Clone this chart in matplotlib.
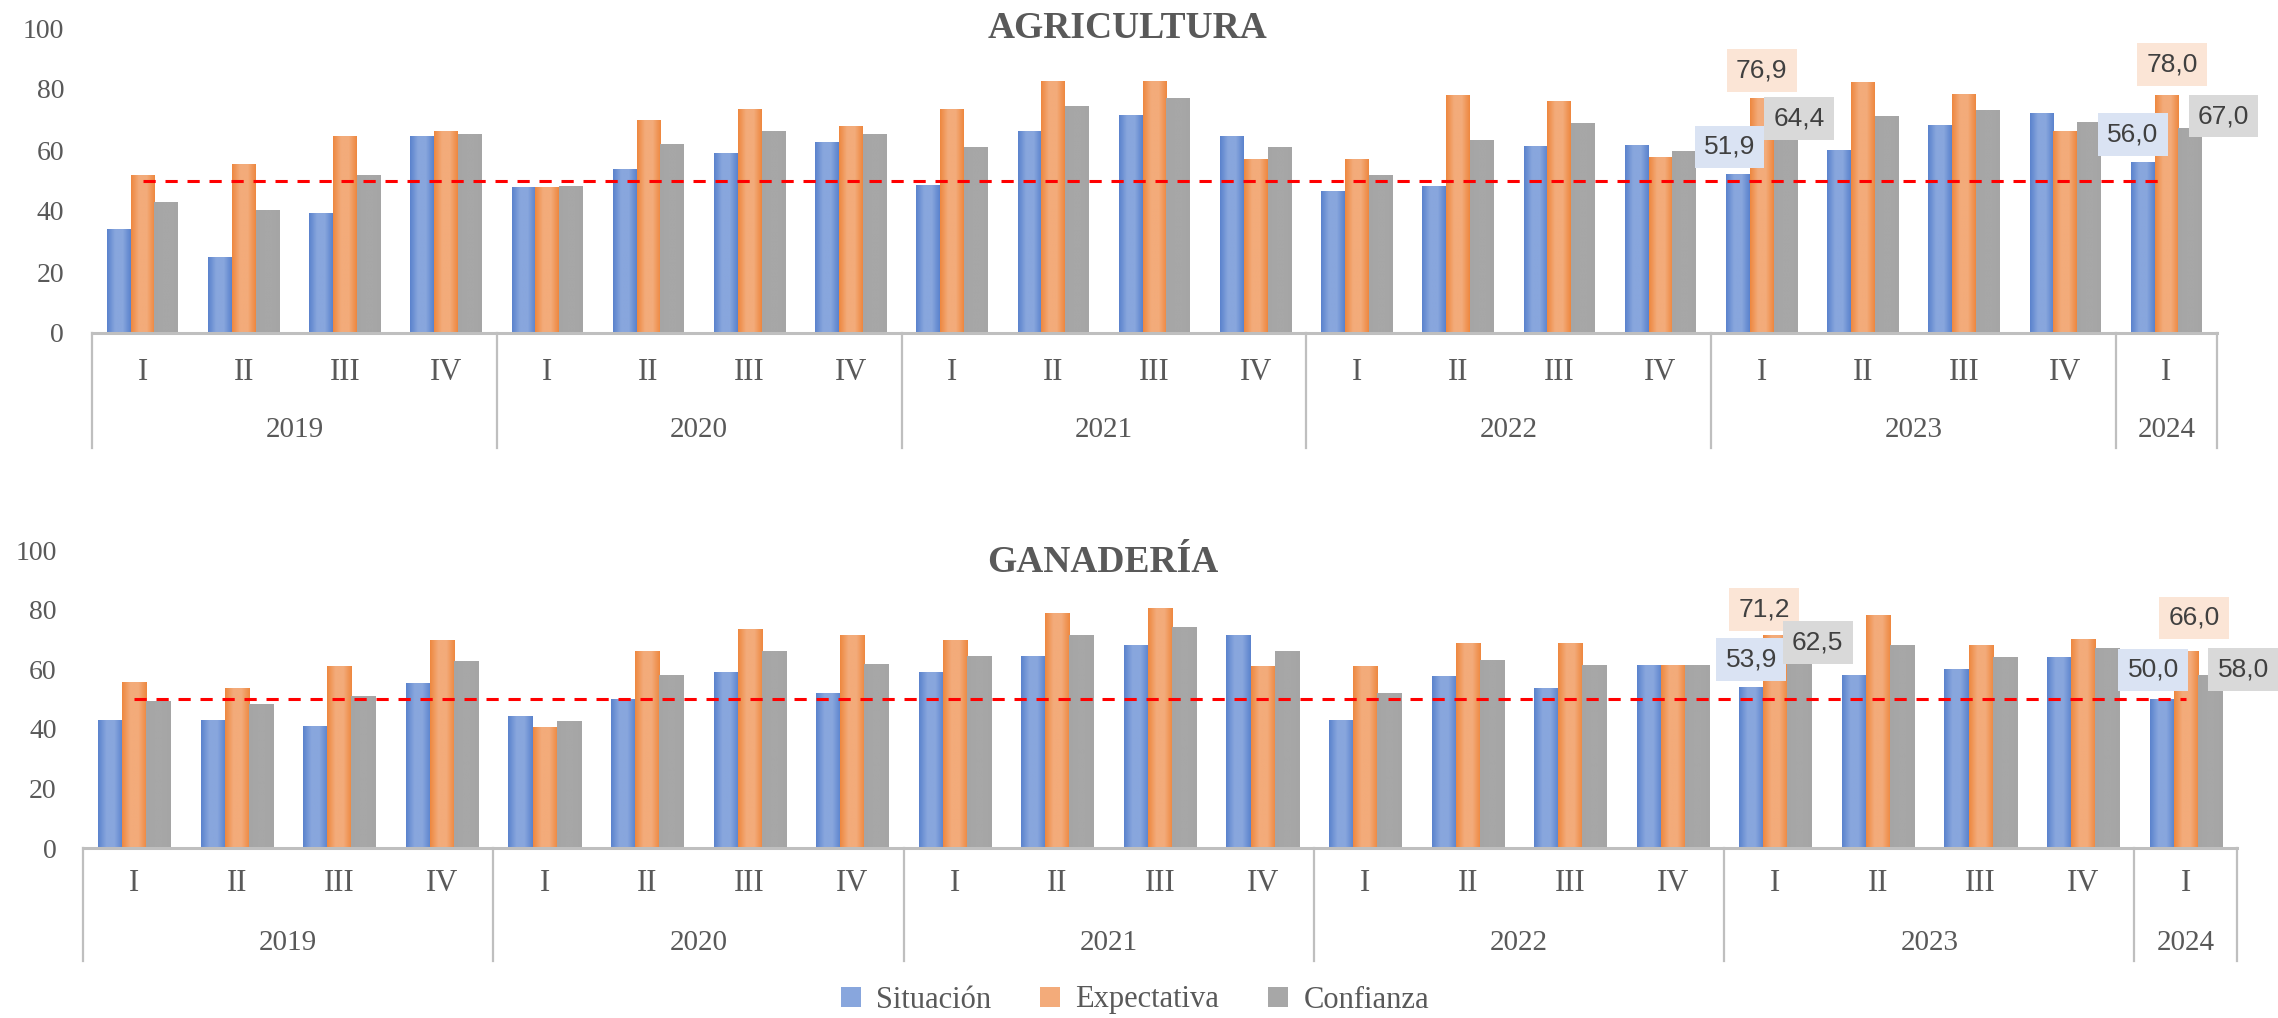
import numpy as np
import matplotlib.pyplot as plt
from matplotlib.colors import LinearSegmentedColormap
from matplotlib.patches import Patch

quarters = ['I', 'II', 'III', 'IV'] * 5 + ['I']
years = ['2019', '2020', '2021', '2022', '2023', '2024']
year_counts = [4, 4, 4, 4, 4, 1]
series = ['Situación', 'Expectativa', 'Confianza']

agri_sit = [33.8, 24.6, 39.1, 64.3, 47.8, 53.5, 59.0, 62.6, 48.2, 66.1, 71.4, 64.3,
            46.3, 48.0, 61.1, 61.6, 51.9, 60.0, 68.0, 72.1, 56.0]
agri_exp = [51.7, 55.3, 64.3, 66.1, 47.8, 69.6, 73.2, 67.8, 73.2, 82.3, 82.3, 57.0,
            57.0, 77.9, 75.9, 57.7, 76.9, 82.0, 78.1, 66.0, 78.0]
agri_conf = [42.7, 40.1, 51.8, 65.2, 48.1, 61.7, 66.2, 65.2, 60.7, 74.3, 77.0, 60.7,
             51.8, 63.0, 68.6, 59.6, 64.4, 71.1, 73.1, 69.0, 67.0]

gan_sit = [42.8, 42.7, 40.9, 55.3, 44.2, 50.0, 59.0, 51.7, 59.0, 64.3, 67.8, 71.4,
           42.7, 57.4, 53.6, 61.4, 53.9, 58.0, 59.9, 63.9, 50.0]
gan_exp = [55.4, 53.6, 60.8, 69.7, 40.3, 66.1, 73.3, 71.4, 69.7, 78.7, 80.5, 60.8,
           60.8, 68.5, 68.5, 61.4, 71.2, 78.0, 67.9, 70.1, 66.0]
gan_conf = [49.1, 48.1, 50.9, 62.5, 42.3, 58.0, 66.0, 61.7, 64.3, 71.4, 74.1, 66.0,
            51.7, 62.9, 61.1, 61.4, 62.5, 67.9, 64.0, 66.9, 58.0]

threshold = 50
labeled = [16, 20]

edge_cols = ['#5B83CD', '#EE8840', '#A5A5A5']
mid_cols = ['#88A6DD', '#F3AB7A', '#A7A7A7']
box_cols = ['#DAE3F3', '#FBE5D6', '#D9D9D9']
grey_txt = '#595959'

# label offsets (points) for each labeled quarter, per series
offs_agri = [[(-6, 20), (0, 20), (10, 13)], [(-7, 20), (4, 22), (24, 9)]]
offs_gan = [[(0, 20), (-8, 19), (13, 14)], [(-6, 21), (6, 24), (24, 4)]]

W, H = 2278, 1018
fig = plt.figure(figsize=(W / 100, H / 100), dpi=100)
plt.rcParams['font.family'] = ['Liberation Serif', 'DejaVu Serif']


def draw_panel(ax, data, title, title_xy, offs, qy, yy, ly, ypad):
    n = len(quarters)
    x = np.arange(n)
    bw = 0.235
    grad = np.linspace(0, 1, 40).reshape(1, -1)
    for k, vals in enumerate(data):
        cmap = LinearSegmentedColormap.from_list(
            'g%d' % k, [edge_cols[k], mid_cols[k], mid_cols[k], edge_cols[k]])
        xs = x + (k - 1) * bw
        for xi, v in zip(xs, vals):
            ax.imshow(grad, cmap=cmap, extent=[xi - bw / 2, xi + bw / 2, 0, v],
                      aspect='auto', zorder=2, interpolation='bilinear')
    ax.plot([0, n - 1], [threshold, threshold], color='#FF0000', lw=2.2,
            dashes=(4, 3.2), zorder=3)
    ax.set_xlim(-0.5, n - 0.5)
    ax.set_ylim(0, 100)
    ax.set_yticks(range(0, 101, 20))
    ax.tick_params(axis='y', length=0, pad=ypad, labelsize=20, labelcolor=grey_txt)
    ax.set_xticks([])
    for s in ['top', 'right', 'left']:
        ax.spines[s].set_visible(False)
    ax.spines['bottom'].set_color('#BFBFBF')
    ax.spines['bottom'].set_linewidth(2.2)

    tr = ax.get_xaxis_transform()
    for i, q in enumerate(quarters):
        ax.text(i, qy, q, transform=tr, ha='center', va='center', fontsize=22, color=grey_txt)
    b = [-0.5]
    for c in year_counts:
        b.append(b[-1] + c)
    for j, yr in enumerate(years):
        ax.text((b[j] + b[j + 1]) / 2, yy, yr, transform=tr, ha='center', va='center',
                fontsize=21, color=grey_txt)
    for bx in b:
        ax.plot([bx, bx], [0, ly], transform=tr, color='#BFBFBF', lw=1.6, clip_on=False)

    for li, idx in enumerate(labeled):
        for k, vals in enumerate(data):
            xi = idx + (k - 1) * bw
            ax.annotate(('%.1f' % vals[idx]).replace('.', ','), xy=(xi, vals[idx]),
                        xytext=offs[li][k], textcoords='offset points',
                        ha='center', va='center', fontsize=19, color='#404040',
                        family=['Liberation Sans', 'DejaVu Sans'], zorder=5,
                        bbox=dict(boxstyle='square,pad=0.35', fc=box_cols[k], ec='none'))

    fig.text(title_xy[0] / W, 1 - title_xy[1] / H, title, ha='center', va='center',
             fontsize=27, fontweight='bold', color=grey_txt)


ax1 = fig.add_axes([92 / W, (H - 333) / H, 2125 / W, 305 / H])
draw_panel(ax1, [agri_sit, agri_exp, agri_conf], 'AGRICULTURA', (1128, 28),
           offs_agri, -0.128, -0.318, -0.377, 20)

ax2 = fig.add_axes([83 / W, (H - 848) / H, 2154 / W, 298 / H])
draw_panel(ax2, [gan_sit, gan_exp, gan_conf], 'GANADERÍA', (1103, 563),
           offs_gan, -0.118, -0.319, -0.38, 19)

handles = [Patch(facecolor=mid_cols[k], edgecolor='none') for k in range(3)]
fig.legend(handles, series, loc='center', bbox_to_anchor=(1135 / W, 1 - 1000 / H),
           ncol=3, frameon=False, fontsize=22, handlelength=0.65, handleheight=0.65,
           handletextpad=0.5, columnspacing=1.6, labelcolor=grey_txt)

fig.savefig('out.png', dpi=100)
